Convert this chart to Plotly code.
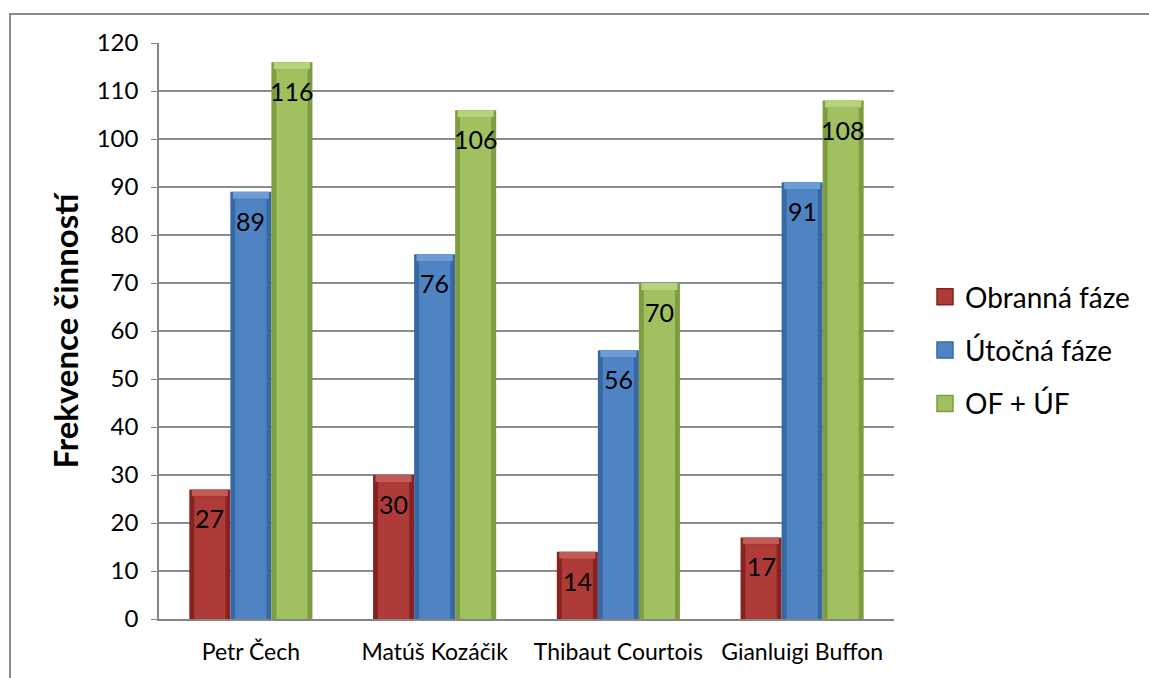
import plotly.graph_objects as go

players = ["Petr Čech", "Matúš Kozáčik", "Thibaut Courtois", "Gianluigi Buffon"]
obranna = [27, 30, 14, 17]
utocna = [89, 76, 56, 91]
celkem = [116, 106, 70, 108]
series_names = ["Obranná fáze", "Útočná fáze", "OF + ÚF"]
y_ticks = list(range(0, 121, 10))

fills = ["#AE3B38", "#4F84C4", "#A1C060"]
edges = ["#86221F", "#3868A3", "#7E9C40"]
tops = ["#C25A57", "#6E9DD6", "#B6D27A"]

FONT = "Lato"
L, R, T, B = 159, 255, 43, 59
W, H = 1149, 678
pw, ph = W - L - R, H - T - B

gap = 0.33
bw = (1 - gap) / 3          # width of one bar in category units
inset = bw * 0.12           # shaded side edge
bevel = 1.45                # height of the top bevel in data units

fig = go.Figure()
all_series = [obranna, utocna, celkem]
for i, (name, vals) in enumerate(zip(series_names, all_series)):
    left = (i - 1.5) * bw
    # outer (darker) body
    fig.add_trace(go.Bar(
        x=players, y=vals, name=name, width=bw, offset=left,
        marker=dict(color=edges[i], line=dict(width=0)),
        showlegend=False, hoverinfo="x+y",
    ))
    # lighter top bevel
    fig.add_trace(go.Bar(
        x=players, y=[bevel] * len(vals), base=[v - bevel for v in vals],
        width=bw - inset, offset=left + inset / 2,
        marker=dict(color=tops[i], line=dict(width=0)),
        showlegend=False, hoverinfo="skip",
    ))
    # main face
    fig.add_trace(go.Bar(
        x=players, y=[v - bevel for v in vals],
        width=bw - 2 * inset, offset=left + inset,
        marker=dict(color=fills[i], line=dict(width=0)),
        showlegend=False, hoverinfo="skip",
    ))

# legend entries with square swatches
for i, name in enumerate(series_names):
    fig.add_trace(go.Scatter(
        x=[None], y=[None], mode="markers", name=name,
        marker=dict(symbol="square", size=18, color=fills[i],
                    line=dict(color=edges[i], width=1.5)),
        legendgroup=name,
    ))

# value labels sit a little below each bar top
for i, vals in enumerate(all_series):
    for j, v in enumerate(vals):
        fig.add_annotation(
            x=j + (i - 1) * bw, y=v, xref="x", yref="y",
            text=str(v), showarrow=False, yshift=-29,
            font=dict(family=FONT, size=25, color="#000000"),
        )

# chart frame (top and left edges) as thin filled strips
def px_x(p):
    return (p - L) / pw

def px_y(p):
    return (H - B - p) / ph

frame_col = "#8C8C8C"
fig.add_shape(type="rect", xref="paper", yref="paper",
              x0=px_x(9), x1=px_x(W), y0=px_y(15), y1=px_y(13),
              fillcolor=frame_col, line=dict(width=0))
fig.add_shape(type="rect", xref="paper", yref="paper",
              x0=px_x(9), x1=px_x(11), y0=px_y(H), y1=px_y(13),
              fillcolor=frame_col, line=dict(width=0))

fig.update_layout(
    width=W, height=H,
    margin=dict(l=L, r=R, t=T, b=B),
    paper_bgcolor="white", plot_bgcolor="white",
    barmode="overlay",
    font=dict(family=FONT, color="#000000"),
    legend=dict(
        x=px_x(925), y=px_y(272), xanchor="left", yanchor="top",
        font=dict(family=FONT, size=28),
        tracegroupgap=14, traceorder="grouped",
        itemwidth=30, itemsizing="trace",
    ),
    xaxis=dict(
        type="category", showgrid=False,
        showline=True, linecolor="#868686", linewidth=1.5,
        ticks="", tickfont=dict(family=FONT, size=23),
        ticklabelstandoff=12,
        range=[-0.5, 3.5],
    ),
    yaxis=dict(
        range=[0, 120], tickvals=y_ticks,
        showgrid=True, gridcolor="#8C8C8C", gridwidth=1.5,
        showline=True, linecolor="#868686", linewidth=1.5,
        ticks="outside", ticklen=6, tickcolor="#868686",
        tickfont=dict(family=FONT, size=24),
        ticklabelstandoff=8,
        title=dict(text="<b>Frekvence činností</b>", font=dict(family=FONT, size=33), standoff=8),
        zeroline=False,
    ),
)

fig.write_html("out.html", config={"displayModeBar": False})
